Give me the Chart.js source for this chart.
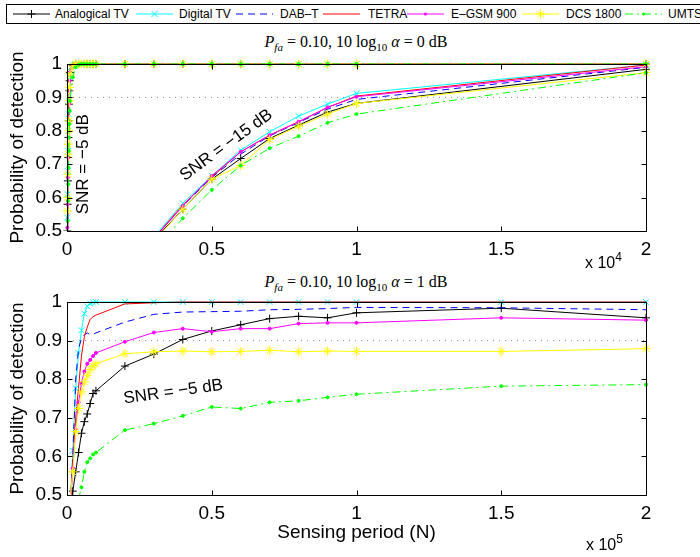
<!DOCTYPE html>
<html>
<head>
<meta charset="utf-8">
<script src="https://cdn.jsdelivr.net/npm/chart.js@4.4.1/dist/chart.umd.min.js"></script>
<style>
  body { margin: 0; background: #fff; }
  #page { position: relative; width: 700px; height: 557px; overflow: hidden; background: #fff;
          font-family: 'Liberation Sans', Arial, sans-serif; }
  canvas { position: absolute; left: 0; }
  #legend { position: absolute; left: 6px; top: 4px; width: 740px; height: 20px; border: 1px solid #000;
            box-sizing: border-box; font-size: 12px; background: #fff; z-index: 2; }
  #legend svg { position: absolute; top: 0; }
  #legend span { position: absolute; top: 0; line-height: 18px; white-space: nowrap; }
  .ptitle { position: absolute; font-family: 'Liberation Serif', 'DejaVu Serif', serif; font-size: 16px;
            white-space: nowrap; transform: translateX(-50%); line-height: 20px; }
  .ptitle sub { font-size: 11px; vertical-align: -4px; line-height: 0; }
  .mult { position: absolute; font-size: 16px; white-space: nowrap; line-height: 18px; }
  .mult sup { font-size: 12px; vertical-align: 7px; line-height: 0; }
</style>
</head>
<body>
<div id="page">
  <div id="legend"></div>
  <div class="ptitle" style="left:356px; top:32px"><i>P</i><sub><i>fa</i></sub> = 0.10, 10 log<sub>10</sub> <i>α</i> = 0 dB</div>
  <div class="ptitle" style="left:356px; top:272px"><i>P</i><sub><i>fa</i></sub> = 0.10, 10 log<sub>10</sub> <i>α</i> = 1 dB</div>
  <canvas id="top" width="700" height="240" style="top:30px"></canvas>
  <canvas id="bottom" width="700" height="287" style="top:270px"></canvas>
  <div class="mult" style="left:585px; top:254px">x 10<sup>4</sup></div>
  <div class="mult" style="left:586px; top:536px">x 10<sup>5</sup></div>
</div>
<script>
// series names, in plotting order
const systems = ['Analogical TV', 'Digital TV', 'DAB–T', 'TETRA', 'E–GSM 900', 'DCS 1800', 'UMTS'];

// ---- top plot, alpha = 0 dB ----
const nTopLow = [10, 20, 30, 40, 50, 60, 70, 80, 90, 100, 200, 300, 400, 500, 600, 700, 800, 900, 1000,
                 2000, 3000, 4000, 5000, 6000, 7000, 8000, 9000, 10000, 20000];
const nTopHigh = [3000, 4000, 5000, 6000, 7000, 8000, 9000, 10000, 20000];

// SNR = -5 dB
const analogTop5 = [0.50, 0.58, 0.65, 0.72, 0.78, 0.83, 0.88, 0.92, 0.95, 0.975, 0.995, 1, 1, 1, 1, 1, 1, 1, 1, 1, 1, 1, 1, 1, 1, 1, 1, 1, 1];
const digitalTop5 = [0.54, 0.61, 0.68, 0.74, 0.80, 0.85, 0.89, 0.93, 0.96, 0.98, 0.997, 1, 1, 1, 1, 1, 1, 1, 1, 1, 1, 1, 1, 1, 1, 1, 1, 1, 1];
const dabTop5 = [0.53, 0.60, 0.67, 0.73, 0.79, 0.84, 0.89, 0.92, 0.95, 0.978, 0.996, 1, 1, 1, 1, 1, 1, 1, 1, 1, 1, 1, 1, 1, 1, 1, 1, 1, 1];
const tetraTop5 = [0.52, 0.59, 0.66, 0.73, 0.79, 0.84, 0.88, 0.92, 0.95, 0.977, 0.996, 1, 1, 1, 1, 1, 1, 1, 1, 1, 1, 1, 1, 1, 1, 1, 1, 1, 1];
const egsmTop5 = [0.51, 0.58, 0.66, 0.72, 0.78, 0.83, 0.88, 0.92, 0.95, 0.976, 0.995, 1, 1, 1, 1, 1, 1, 1, 1, 1, 1, 1, 1, 1, 1, 1, 1, 1, 1];
const dcsTop5 = [0.56, 0.60, 0.67, 0.73, 0.76, 0.80, 0.83, 0.89, 0.93, 0.97, 0.994, 1, 1, 1, 1, 1, 1, 1, 1, 1, 1, 1, 1, 1, 1, 1, 1, 1, 1];
const umtsTop5 = [0.47, 0.53, 0.59, 0.64, 0.69, 0.74, 0.78, 0.82, 0.86, 0.89, 0.96, 0.99, 0.998, 1, 1, 1, 1, 1, 1, 1, 1, 1, 1, 1, 1, 1, 1, 1, 1];

// SNR = -15 dB
const analogTop15 = [0.472, 0.565, 0.655, 0.717, 0.777, 0.817, 0.856, 0.882, 0.984];
const digitalTop15 = [0.482, 0.583, 0.665, 0.742, 0.797, 0.844, 0.880, 0.912, 0.997];
const dabTop15 = [0.478, 0.575, 0.660, 0.730, 0.785, 0.825, 0.865, 0.894, 0.990];
const tetraTop15 = [0.478, 0.578, 0.662, 0.737, 0.787, 0.827, 0.870, 0.904, 0.997];
const egsmTop15 = [0.476, 0.575, 0.665, 0.737, 0.787, 0.827, 0.870, 0.902, 0.992];
const dcsTop15 = [0.468, 0.565, 0.655, 0.696, 0.774, 0.814, 0.850, 0.882, 0.974];
const umtsTop15 = [0.443, 0.538, 0.623, 0.696, 0.748, 0.784, 0.824, 0.850, 0.974];

// ---- bottom plot, alpha = 1 dB, SNR = -5 dB ----
const nBottom = [1000, 2000, 3000, 4000, 5000, 6000, 7000, 8000, 9000, 10000,
                 20000, 30000, 40000, 50000, 60000, 70000, 80000, 90000, 100000, 150000, 200000];
const analogBot = [0.44, 0.51, 0.56, 0.61, 0.66, 0.69, 0.71, 0.737, 0.763, 0.77, 0.834, 0.865, 0.903, 0.925, 0.941, 0.957, 0.963, 0.959, 0.972, 0.984, 0.959];
const digitalBot = [0.45, 0.615, 0.776, 0.868, 0.927, 0.970, 0.989, 0.996, 0.999, 1, 1, 1, 1, 1, 1, 1, 1, 1, 1, 1, 1];
const dabBot = [0.45, 0.60, 0.80, 0.88, 0.905, 0.915, 0.92, 0.915, 0.916, 0.92, 0.948, 0.968, 0.974, 0.975, 0.976, 0.980, 0.981, 0.983, 0.986, 0.985, 0.980];
const tetraBot = [0.45, 0.58, 0.70, 0.78, 0.86, 0.91, 0.935, 0.955, 0.962, 0.966, 0.995, 0.998, 1, 1, 1, 1, 1, 1, 1, 1, 1];
const egsmBot = [0.45, 0.57, 0.67, 0.74, 0.79, 0.82, 0.84, 0.85, 0.86, 0.868, 0.897, 0.921, 0.931, 0.923, 0.931, 0.931, 0.944, 0.946, 0.946, 0.959, 0.953];
const dcsBot = [0.48, 0.56, 0.664, 0.724, 0.767, 0.793, 0.81, 0.825, 0.834, 0.84, 0.866, 0.871, 0.873, 0.871, 0.872, 0.875, 0.871, 0.873, 0.872, 0.872, 0.879];
const umtsBot = [0.35, 0.40, 0.45, 0.49, 0.52, 0.56, 0.585, 0.595, 0.605, 0.61, 0.668, 0.685, 0.705, 0.728, 0.724, 0.74, 0.744, 0.753, 0.761, 0.782, 0.786];

const pdTarget = 0.9;
const yTicks = [0.5, 0.6, 0.7, 0.8, 0.9, 1];

// look of each system (matlab style)
const colors = ['#000000', '#00ffff', '#0000ff', '#ff0000', '#ff00ff', '#ffff00', '#00ff00'];
const dashes = [[], [], [7, 5], [], [], [], [8, 4, 2, 4]];
const markers = ['cross', 'crossRot', false, false, 'circle', 'star', 'circle'];
const markerSize = [4, 4, 0, 0, 1.5, 4.5, 1.5];

Chart.defaults.font.family = "'Liberation Sans', Arial, sans-serif";
Chart.defaults.color = '#000';

function zip(xs, ys) {
    return xs.map((x, i) => ({ x: x, y: ys[i] }));
}

function series(k, xs, ys) {
    return {
        label: systems[k],
        data: zip(xs, ys),
        borderColor: colors[k],
        backgroundColor: colors[k],
        borderWidth: 1,
        borderDash: dashes[k],
        pointStyle: markers[k] || 'circle',
        pointRadius: markerSize[k],
        pointBorderColor: colors[k],
        pointBackgroundColor: colors[k],
        pointBorderWidth: 1,
        tension: 0,
        order: -k,
        clip: { left: 8, top: 8, right: 8, bottom: 0 }
    };
}

function threshold(xmax) {
    return {
        label: 'target',
        data: [{ x: 0, y: pdTarget }, { x: xmax, y: pdTarget }],
        borderColor: '#8c8c8c',
        borderWidth: 1,
        borderDash: [1, 5],
        pointRadius: 0,
        order: 10
    };
}

// box, inward ticks on all four sides, and the SNR notes
const framePlugin = {
    id: 'frame',
    afterDatasetsDraw(chart, args, opts) {
        const { ctx, chartArea: a } = chart;
        const xs = chart.scales.x, ys = chart.scales.y;
        const L = Math.round(a.left) + 0.5, R = Math.round(a.right) + 0.5;
        const T = Math.round(a.top) + 0.5, B = Math.round(a.bottom) + 0.5;
        ctx.save();
        ctx.strokeStyle = '#000';
        ctx.lineWidth = 1;
        ctx.setLineDash([]);
        ctx.strokeRect(L, T, R - L, B - T);
        ctx.beginPath();
        xs.ticks.forEach(t => {
            const px = Math.round(xs.getPixelForValue(t.value)) + 0.5;
            ctx.moveTo(px, B); ctx.lineTo(px, B - 5);
            ctx.moveTo(px, T); ctx.lineTo(px, T + 5);
        });
        ys.ticks.forEach(t => {
            const py = Math.round(ys.getPixelForValue(t.value)) + 0.5;
            ctx.moveTo(L, py); ctx.lineTo(L + 5, py);
            ctx.moveTo(R, py); ctx.lineTo(R - 5, py);
        });
        ctx.stroke();

        ctx.fillStyle = '#000';
        ctx.font = "17px 'Liberation Sans', Arial, sans-serif";
        ctx.textAlign = 'center';
        ctx.textBaseline = 'middle';
        (opts.notes || []).forEach(n => {
            ctx.save();
            ctx.translate(xs.getPixelForValue(n.x), ys.getPixelForValue(n.y));
            ctx.rotate(n.angle * Math.PI / 180);
            ctx.fillText(n.text, 0, 0);
            ctx.restore();
        });
        ctx.restore();
    }
};

function makeChart(id, datasets, cfg) {
    const ctx = document.getElementById(id).getContext('2d');
    return new Chart(ctx, {
        type: 'line',
        data: { datasets: datasets },
        plugins: [framePlugin],
        options: {
            responsive: false,
            animation: false,
            devicePixelRatio: 1,
            layout: { padding: cfg.padding },
            plugins: {
                legend: { display: false },
                tooltip: { enabled: false },
                frame: { notes: cfg.notes }
            },
            scales: {
                x: {
                    type: 'linear',
                    min: 0,
                    max: cfg.xmax,
                    grid: { display: false, drawTicks: false },
                    border: { display: false },
                    ticks: {
                        stepSize: cfg.xmax / 4,
                        padding: 7,
                        maxRotation: 0,
                        font: { size: 19 },
                        callback: v => String(+(v / cfg.xunit).toFixed(1))
                    },
                    title: cfg.xtitle ? {
                        display: true,
                        text: cfg.xtitle,
                        font: { size: 19 },
                        padding: { top: 0, bottom: 13 }
                    } : { display: false },
                    afterFit: s => { s.height = cfg.xAxisHeight; }
                },
                y: {
                    min: 0.5,
                    max: 1,
                    grid: { display: false, drawTicks: false },
                    border: { display: false },
                    afterBuildTicks: s => { s.ticks = yTicks.map(v => ({ value: v })); },
                    ticks: {
                        padding: 5,
                        font: { size: 19 },
                        callback: v => String(+v.toFixed(1))
                    },
                    title: {
                        display: true,
                        text: 'Probability of detection',
                        font: { size: 19 },
                        padding: { top: 6, bottom: 0 }
                    },
                    afterFit: s => { s.width = 67; }
                }
            }
        }
    });
}

const topSets = [
    series(0, nTopLow, analogTop5), series(1, nTopLow, digitalTop5), series(2, nTopLow, dabTop5),
    series(3, nTopLow, tetraTop5), series(4, nTopLow, egsmTop5), series(5, nTopLow, dcsTop5),
    series(6, nTopLow, umtsTop5),
    series(0, nTopHigh, analogTop15), series(1, nTopHigh, digitalTop15), series(2, nTopHigh, dabTop15),
    series(3, nTopHigh, tetraTop15), series(4, nTopHigh, egsmTop15), series(5, nTopHigh, dcsTop15),
    series(6, nTopHigh, umtsTop15),
    threshold(20000)
];

const bottomSets = [
    series(0, nBottom, analogBot), series(1, nBottom, digitalBot), series(2, nBottom, dabBot),
    series(3, nBottom, tetraBot), series(4, nBottom, egsmBot), series(5, nBottom, dcsBot),
    series(6, nBottom, umtsBot),
    threshold(200000)
];

makeChart('top', topSets, {
    xmax: 20000, xunit: 1e4,
    padding: { left: 0, right: 54, top: 34, bottom: 0 },
    xAxisHeight: 39,
    notes: [
        { text: 'SNR = −5 dB', x: 580, y: 0.70, angle: -90 },
        { text: 'SNR = −15 dB', x: 5500, y: 0.757, angle: -36 }
    ]
});

makeChart('bottom', bottomSets, {
    xmax: 200000, xunit: 1e5,
    padding: { left: 0, right: 54, top: 32, bottom: 0 },
    xAxisHeight: 62,
    xtitle: 'Sensing period (N)',
    notes: [
        { text: 'SNR = −5 dB', x: 36700, y: 0.767, angle: -8 }
    ]
});

// legend: line sample with marker, then the name
const legendSampleX = [13, 136, 236, 323, 407, 522, 625];
const legendTextX = [55, 179, 280, 368, 451, 566, 668];

function markerSvg(k) {
    const c = colors[k];
    const m = markers[k];
    if (m === 'cross') return `<path d="M14.5 9H22.5M18.5 5V13" stroke="${c}"/>`;
    if (m === 'crossRot') return `<path d="M15.5 6L21.5 12M21.5 6L15.5 12" stroke="${c}"/>`;
    if (m === 'star') return `<path d="M14 9H23M18.5 4.5V13.5M15.3 5.8L21.7 12.2M21.7 5.8L15.3 12.2" stroke="${c}"/>`;
    if (m === 'circle') return `<circle cx="18.5" cy="9" r="1.5" fill="${c}"/>`;
    return '';
}

const legend = document.getElementById('legend');
systems.forEach((name, k) => {
    const dash = dashes[k].length ? ` stroke-dasharray="${dashes[k].join(' ')}"` : '';
    legend.insertAdjacentHTML('beforeend',
        `<svg width="37" height="18" style="left:${legendSampleX[k] - 7}px">` +
        `<line x1="0" y1="9" x2="37" y2="9" stroke="${colors[k]}" stroke-width="1"${dash}/>` +
        markerSvg(k) + `</svg>` +
        `<span style="left:${legendTextX[k] - 7}px">${name}</span>`);
});
</script>
</body>
</html>
